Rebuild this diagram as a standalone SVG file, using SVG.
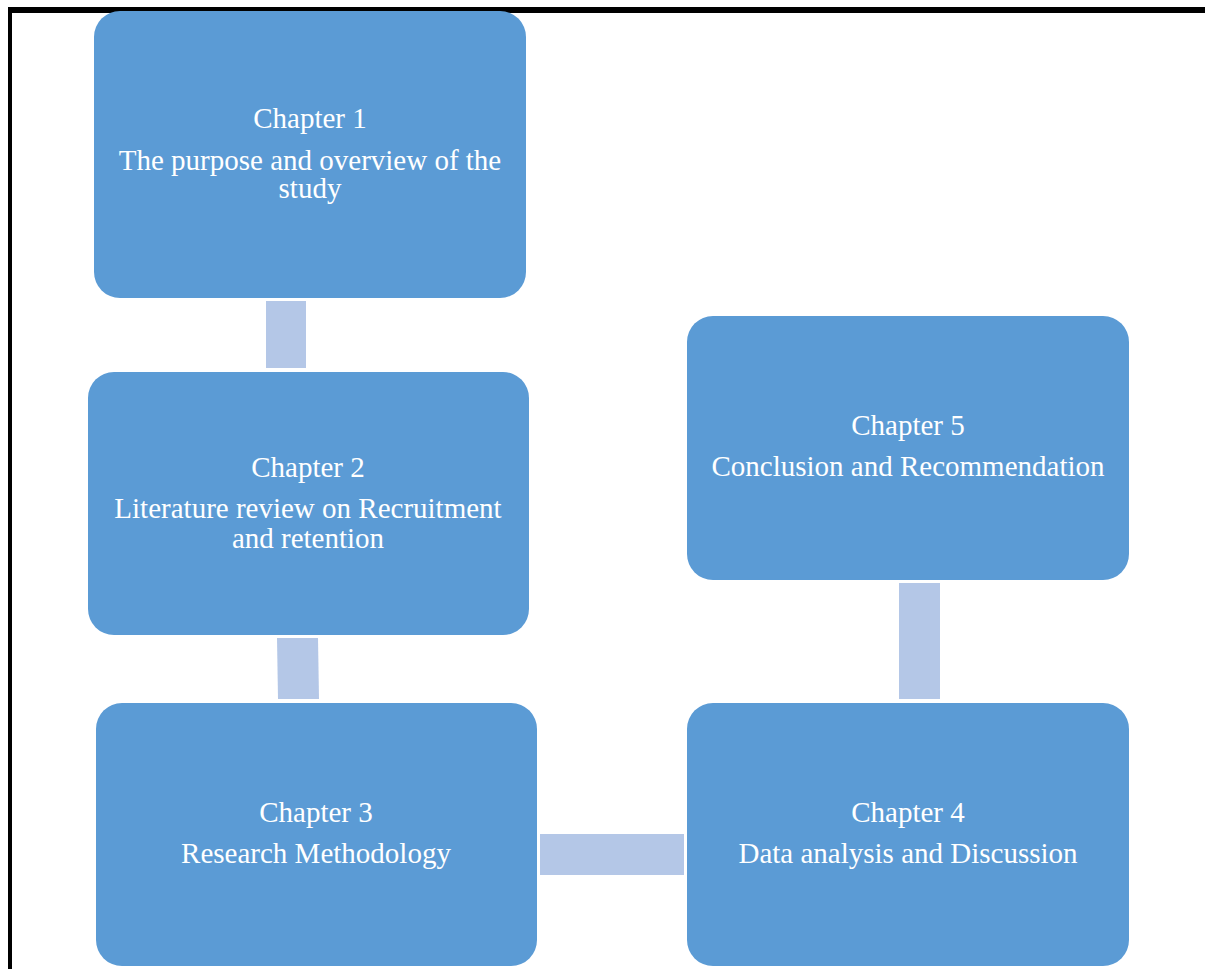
<svg xmlns="http://www.w3.org/2000/svg" width="1205" height="969" viewBox="0 0 1205 969">
<style>
.node{fill:#5B9BD5;}
.conn{fill:#B4C7E7;}
.t{fill:#FFFFFF;font-family:"Liberation Serif","Times New Roman",serif;font-size:29px;text-anchor:middle;}
</style>
<rect x="0" y="0" width="1205" height="969" fill="#FFFFFF"/>
<rect x="8" y="7" width="1197" height="6" fill="#000000"/>
<rect x="8" y="7" width="4" height="962" fill="#000000"/>
<g id="connectors">
<rect class="conn" x="266" y="301" width="40" height="67"/>
<polygon class="conn" points="277,638 318,638 319,699 278,699"/>
<rect class="conn" x="540" y="834" width="144" height="41"/>
<rect class="conn" x="899" y="583" width="41" height="116"/>
</g>
<g id="node1">
<rect class="node" x="94" y="11" width="432" height="287" rx="26"/>
<text class="t" x="310" y="128">Chapter 1</text>
<text class="t" x="310" y="170">The purpose and overview of the</text>
<text class="t" x="310" y="198">study</text>
</g>
<g id="node2">
<rect class="node" x="88" y="372" width="441" height="263" rx="26"/>
<text class="t" x="308" y="477">Chapter 2</text>
<text class="t" x="308" y="518">Literature review on Recruitment</text>
<text class="t" x="308" y="548">and retention</text>
</g>
<g id="node3">
<rect class="node" x="96" y="703" width="441" height="263" rx="26"/>
<text class="t" x="316" y="822">Chapter 3</text>
<text class="t" x="316" y="863">Research Methodology</text>
</g>
<g id="node4">
<rect class="node" x="687" y="703" width="442" height="263" rx="26"/>
<text class="t" x="908" y="822">Chapter 4</text>
<text class="t" x="908" y="863">Data analysis and Discussion</text>
</g>
<g id="node5">
<rect class="node" x="687" y="316" width="442" height="264" rx="26"/>
<text class="t" x="908" y="435">Chapter 5</text>
<text class="t" x="908" y="476">Conclusion and Recommendation</text>
</g>
</svg>
